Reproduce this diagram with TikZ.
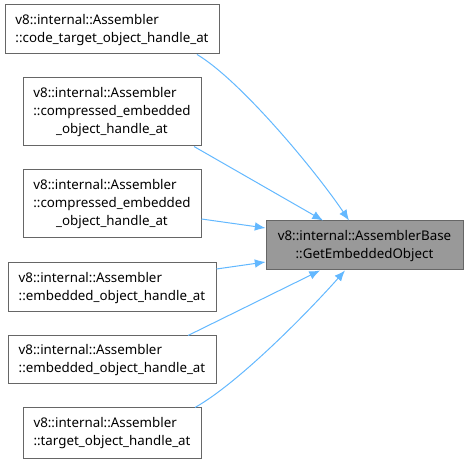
\documentclass[tikz,border=0pt]{standalone}
\usepackage{fontspec}
\setmainfont{Noto Sans}
\usetikzlibrary{calc,arrows.meta}
\definecolor{edgeblue}{HTML}{63B8FF}
\definecolor{boxborder}{HTML}{666666}
\definecolor{targetfill}{HTML}{999999}
\newcommand{\twol}[2]{\begin{tabular}{@{}l@{}}#1\\\multicolumn{1}{@{}c@{}}{#2}\end{tabular}}
\newcommand{\threel}[3]{\begin{tabular}{@{}l@{}}#1\\#2\\\multicolumn{1}{@{}c@{}}{#3}\end{tabular}}
\begin{document}
\begin{tikzpicture}[x=0.75pt,y=-0.75pt,
  every node/.style={font=\fontsize{10pt}{13.5pt}\selectfont},
  callerbox/.style={draw=boxborder,fill=white,line width=0.75pt,inner sep=0pt,anchor=center},
  targetbox/.style={callerbox,fill=targetfill},
  edge/.style={draw=edgeblue,line width=0.75pt,-{Latex[length=8pt,width=6.5pt]}}]
\useasboundingbox (0,0) rectangle (468,463);
\node[callerbox,minimum width=160.5pt,minimum height=36.75pt] (b1) at (112,29.5)
  {\twol{v8::internal::Assembler}{::code\_target\_object\_handle\_at}};
\node[callerbox,minimum width=133.5pt,minimum height=51pt] (b2) at (112,112)
  {\threel{v8::internal::Assembler}{::compressed\_embedded}{\_object\_handle\_at}};
\node[callerbox,minimum width=133.5pt,minimum height=51pt] (b3) at (112,204)
  {\threel{v8::internal::Assembler}{::compressed\_embedded}{\_object\_handle\_at}};
\node[callerbox,minimum width=156pt,minimum height=36.75pt] (b4) at (112,287.5)
  {\twol{v8::internal::Assembler}{::embedded\_object\_handle\_at}};
\node[callerbox,minimum width=156pt,minimum height=36pt] (b5) at (112,360)
  {\twol{v8::internal::Assembler}{::embedded\_object\_handle\_at}};
\node[callerbox,minimum width=133.5pt,minimum height=37.5pt] (b6) at (112,433)
  {\twol{v8::internal::Assembler}{::target\_object\_handle\_at}};
\node[targetbox,minimum width=147.75pt,minimum height=36.75pt] (t) at (364.5,245.5)
  {\twol{v8::internal::AssemblerBase}{::GetEmbeddedObject}};
\draw[edge] ($(b1.south)+(85,0)$) .. controls (240,80) and (315,170) .. ($(t.north)+(-15.5,0)$);
\draw[edge] ($(b2.south)+(82,0)$) -- ($(t.north)+(-41.5,0)$);
\draw[edge] ($(b3.east)+(0,15)$) -- ($(t.west)+(0,-17.5)$);
\draw[edge] ($(b4.east)+(0,-18.5)$) -- ($(t.west)+(0,16.5)$);
\draw[edge] ($(b5.north)+(76,0)$) -- ($(t.south)+(-44.5,0)$);
\draw[edge] ($(b6.north)+(83,0)$) .. controls (240,382) and (310,310) .. ($(t.south)+(-19.5,0)$);
\end{tikzpicture}
\end{document}
